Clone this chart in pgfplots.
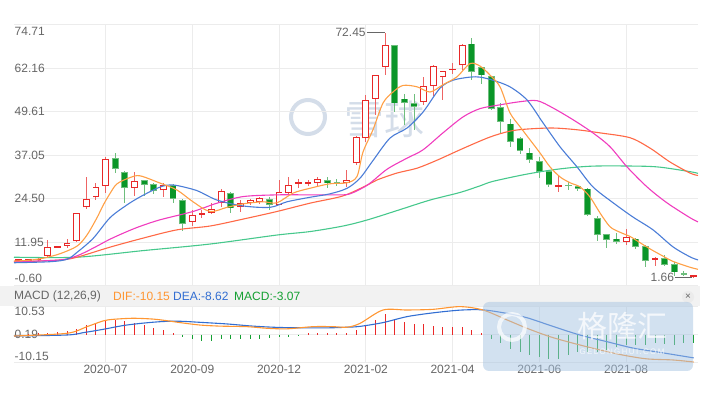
\documentclass[border=0pt]{standalone}
\usepackage{pgfplots}
\pgfplotsset{compat=1.18}
\usepackage{pgfplotstable}
\usepackage{fontspec}
\setmainfont{Liberation Sans}
\newfontfamily\cjk{Noto Sans CJK SC}
\definecolor{upred}{RGB}{232,40,40}
\definecolor{upwick}{RGB}{238,100,100}
\definecolor{dngreen}{RGB}{10,150,40}
\definecolor{dnlight}{RGB}{110,190,125}
\definecolor{maA}{RGB}{255,160,70}
\definecolor{maB}{RGB}{75,125,215}
\definecolor{maC}{RGB}{240,60,190}
\definecolor{maD}{RGB}{255,105,70}
\definecolor{maE}{RGB}{70,200,140}
\definecolor{difc}{RGB}{255,150,50}
\definecolor{deac}{RGB}{50,110,210}
\definecolor{histr}{RGB}{235,40,40}
\definecolor{histg}{RGB}{20,160,50}
\definecolor{gridc}{RGB}{236,236,236}
\definecolor{labgray}{RGB}{102,102,102}
\definecolor{bandgray}{RGB}{242,242,242}
\definecolor{wm}{RGB}{212,221,233}
\definecolor{wmblue}{RGB}{165,195,226}

\pgfplotstableread{
i O H L C
0 6.5 7.0 6.3 6.9
1 6.6 7.1 6.4 7.0
2 6.7 7.3 6.5 7.1
3 8.0 12.6 7.4 10.5
4 10.4 10.9 10.2 10.6
5 10.9 13.0 10.4 11.7
6 12.2 20.5 12.0 20.3
7 22.0 30.7 21.5 24.4
8 24.9 29.0 24.1 27.8
9 28.1 36.5 26.1 35.9
12 27.6 32.2 25.2 29.6
15 26.9 29.0 24.9 28.4
18 17.7 21.2 16.6 19.7
19 19.8 21.2 18.9 20.1
20 20.4 23.3 20.2 21.6
21 23.3 27.2 22.1 26.7
23 22.1 24.1 20.7 23.2
24 23.2 24.5 22.8 24.1
25 23.5 25.0 23.0 24.6
27 22.8 29.9 22.6 26.5
28 26.2 30.7 25.5 28.4
29 28.8 30.1 27.5 29.0
30 28.8 29.8 28.2 29.0
31 29.1 30.8 28.1 30.1
34 28.9 32.7 27.8 29.8
35 34.7 42.5 34.3 42.2
36 41.9 54.4 40.9 52.9
37 53.4 60.3 48.6 60.1
38 62.5 72.45 60.1 68.8
42 52.4 59.6 51.5 57.0
43 57.0 63.2 54.2 62.8
44 59.6 61.4 52.9 61.3
45 61.6 63.8 60.6 61.9
46 63.0 69.3 61.6 68.8
56 28.0 31.3 26.5 28.2
63 12.0 15.6 11.1 13.5
66 6.9 7.6 5.0 7.1
70 2.0 2.4 1.66 2.3
}\upT

\pgfplotstableread{
i O H L C
10 36.2 37.6 31.9 33.0
11 32.2 32.5 23.2 27.5
13 29.8 30.0 25.2 28.4
14 28.7 29.0 25.8 26.7
16 28.4 28.6 23.2 24.4
17 24.1 24.3 15.2 17.1
22 26.2 26.5 20.3 21.7
26 24.3 25.0 21.2 22.7
32 29.8 30.8 27.6 28.9
33 29.1 30.1 28.2 28.9
39 68.8 68.9 49.5 52.0
40 53.4 54.8 45.7 52.1
41 52.1 54.8 44.3 50.9
47 69.3 70.8 58.7 61.1
48 62.4 62.6 57.5 60.1
49 59.8 60.0 50.0 50.5
50 51.0 52.0 43.3 46.7
51 46.2 47.6 39.4 40.9
52 41.9 42.3 37.5 38.2
53 37.8 39.0 34.8 35.6
54 35.3 36.4 30.6 32.2
55 32.5 32.7 27.9 28.4
57 28.3 29.3 27.0 28.1
58 28.2 28.5 26.7 27.4
59 27.4 27.6 19.4 19.7
60 18.8 19.5 12.3 14.0
61 14.2 14.4 10.4 12.5
62 13.0 14.5 11.4 12.0
64 13.0 13.2 9.9 10.6
65 10.8 11.0 4.8 6.6
67 7.3 8.2 5.0 5.3
68 5.6 6.3 2.3 3.2
69 3.1 3.5 2.2 2.6
}\dnT

\newcommand{\lab}{\fontsize{12bp}{14bp}\selectfont}
\pgfplotsset{candle/.style={draw=none, mark=none, forget plot, error bars/y explicit, error bars/error mark=none}}

\begin{document}
\begin{tikzpicture}
\path[use as bounding box] (0,0) rectangle (706bp,396bp);
% watermark
\draw[wm, line width=4bp] (308bp,279bp) circle (17bp);
\node[text=wm, inner sep=0pt] at (384bp,277bp) {\cjk\fontsize{40bp}{40bp}\selectfont 雪球};
% legend band
\fill[bandgray] (0,90bp) rectangle (700bp,110bp);

\begin{axis}[
  at={(14bp,110.4bp)}, anchor=south west, scale only axis,
  width=684.4bp, height=260.8bp,
  xmin=-0.5, xmax=70.5, ymin=-0.60, ymax=74.71,
  axis line style={draw=none}, tick style={draw=none},
  xtick={9,18,27,36,45,54,63}, xticklabels={},
  ytick={-0.60,11.95,24.50,37.05,49.61,62.16,74.71},
  yticklabels={,11.95,24.50,37.05,49.61,62.16,},
  yticklabel style={anchor=west, inner xsep=0.5bp, text=labgray, font=\lab},
  grid=major, grid style={gridc, line width=0.7bp},
  clip=false,
]
% wicks
\addplot[candle, error bars/y dir=both, error bars/error bar style={line width=1bp, draw=upwick}]
  table[x=i, y=C, y error plus expr=\thisrow{H}-\thisrow{C}, y error minus expr=\thisrow{C}-\thisrow{L}] {\upT};
\addplot[candle, error bars/y dir=both, error bars/error bar style={line width=1bp, draw=dnlight}]
  table[x=i, y=C, y error plus expr=\thisrow{H}-\thisrow{C}, y error minus expr=\thisrow{C}-\thisrow{L}] {\dnT};
% up bodies (hollow)
\addplot[candle, error bars/y dir=plus, error bars/error bar style={line width=6.8bp, draw=upred}]
  table[x=i, y=O, y error plus expr={max(\thisrow{C}-\thisrow{O},0.45)}] {\upT};
\addplot[candle, error bars/y dir=plus, error bars/error bar style={line width=5.0bp, draw=white}]
  table[x=i, y expr=\thisrow{O}+0.3, y error plus expr={max(\thisrow{C}-\thisrow{O}-0.6,0)}] {\upT};
% down bodies
\addplot[candle, error bars/y dir=plus, error bars/error bar style={line width=6.8bp, draw=dnlight}]
  table[x=i, y=C, y error plus expr={max(\thisrow{O}-\thisrow{C},0.45)}] {\dnT};
\addplot[candle, error bars/y dir=plus, error bars/error bar style={line width=5.2bp, draw=dngreen}]
  table[x=i, y expr=\thisrow{C}+0.25, y error plus expr={max(\thisrow{O}-\thisrow{C}-0.5,0)}] {\dnT};

% moving averages
\addplot[maE, line width=1.1bp, smooth, tension=0.5] coordinates {
(-0.5,7.6) (6.04,7.6) (12.88,9.5) (19.83,11.4) (26.78,14.0) (30.2,15.0) (33.63,16.6) (36.2,18.4) (39.5,21.3) (42.66,24.1) (45.77,26.3) (47.84,28.2) (49.19,29.5) (52.72,31.6) (56.14,33.1) (59.56,33.9) (64.13,33.9) (66.51,33.6) (69.63,32.3) (70.46,31.8)};
\addplot[maD, line width=1.1bp, smooth, tension=0.5] coordinates {
(-0.5,6.2) (4.27,6.8) (6.04,7.6) (9.46,10.5) (12.88,13.1) (16.41,15.5) (19.83,16.6) (23.26,18.6) (26.78,20.8) (30.2,23.2) (33.63,25.3) (36.2,28.5) (37.16,29.9) (39.23,31.9) (41.31,33.3) (43.38,35.6) (46.08,39.0) (48.88,42.3) (50.95,44.0) (52.72,44.6) (55.41,44.9) (57.9,44.4) (60.29,43.5) (63.4,42.1) (65.48,39.1) (67.55,35.1) (69.63,31.9) (70.46,31.2)};
\addplot[maC, line width=1.1bp, smooth, tension=0.5] coordinates {
(-0.5,6.3) (4.27,6.8) (6.04,8.0) (7.7,10.2) (9.46,12.8) (11.22,15.0) (12.57,16.5) (14.65,18.4) (18.07,20.8) (20.56,23.2) (23.26,25.1) (26.78,25.6) (30.2,25.6) (33.01,25.6) (34.36,25.9) (36.2,28.5) (38.2,33.0) (40.27,36.2) (41.93,38.6) (44.0,43.5) (46.08,48.1) (47.84,50.5) (49.92,51.6) (51.99,52.5) (53.76,52.8) (55.41,50.7) (57.49,47.3) (59.56,43.5) (61.33,39.5) (63.09,33.7) (65.17,27.9) (67.24,23.3) (69.63,19.0) (70.46,17.8)};
\addplot[maB, line width=1.1bp, smooth, tension=0.5] coordinates {
(-0.5,6.0) (3.24,6.3) (5.0,7.0) (6.04,9.0) (7.7,13.0) (9.46,19.0) (11.22,22.7) (12.57,25.0) (14.34,27.5) (15.37,28.4) (16.41,28.3) (18.5,26.8) (20.56,24.1) (23.26,22.4) (26.06,22.0) (27.82,23.6) (30.2,24.9) (32.28,25.9) (34.05,27.5) (35.39,30.4) (36.74,35.5) (38.51,42.0) (40.27,44.9) (41.93,49.5) (43.69,56.4) (45.04,58.7) (46.8,59.6) (47.84,59.6) (49.19,58.7) (50.95,56.8) (52.72,53.0) (54.38,46.4) (56.14,39.5) (57.9,33.7) (59.56,27.9) (61.66,23.3) (63.71,19.2) (65.79,15.5) (67.86,10.6) (69.63,7.7) (70.46,6.8)};
\addplot[maA, line width=1.1bp, smooth, tension=0.5] coordinates {
(-0.5,6.5) (1,6.7) (2.51,7.3) (4.27,8.6) (6.04,10.8) (7.07,14.0) (8.11,19.0) (8.73,22.5) (9.46,26.0) (10.19,28.8) (11.54,30.6) (12.57,31.1) (14.65,29.0) (16.41,27.0) (18.07,23.6) (19.83,20.8) (21.6,22.0) (23.26,23.0) (25.33,23.6) (26.78,23.3) (28.44,26.1) (30.2,27.5) (32.28,28.8) (34.05,29.1) (35.08,30.9) (35.71,38.0) (36.74,44.4) (37.78,52.1) (38.82,55.3) (39.86,57.2) (41.31,56.8) (42.66,55.3) (44.0,57.4) (45.46,59.7) (46.8,63.5) (47.84,62.8) (48.88,60.2) (49.92,56.8) (50.95,49.3) (51.99,45.3) (53.03,41.5) (54.07,37.7) (55.1,33.7) (56.14,30.8) (57.18,29.1) (58.22,27.9) (59.25,25.0) (60.29,20.4) (61.33,16.4) (62.37,14.8) (63.4,13.6) (64.44,11.8) (65.48,10.0) (66.51,8.4) (67.86,6.4) (69.63,4.7) (70.46,4.1)};

% extreme labels
\draw[labgray, line width=0.6bp] (axis cs:36.1,72.45) -- (axis cs:38,72.45);
\node[anchor=east, inner sep=1bp, text=labgray, font=\lab] at (axis cs:36.1,72.45) {72.45};
\draw[labgray, line width=0.6bp] (axis cs:68.1,1.66) -- (axis cs:69.8,1.66);
\node[anchor=east, inner sep=1bp, text=labgray, font=\lab] at (axis cs:68.1,1.9) {1.66};
% axis end labels
\node[anchor=north west, inner xsep=0.5bp, inner ysep=2bp, text=labgray, font=\lab] at (rel axis cs:0,1) {74.71};
\node[anchor=south west, inner xsep=0.5bp, inner ysep=3bp, text=labgray, font=\lab] at (rel axis cs:0,0) {-0.60};
\end{axis}

% legend text
\node[anchor=west, inner sep=0pt, text=labgray, font=\lab] at (14bp,100bp) {MACD (12,26,9)};
\node[anchor=west, inner sep=0pt, text=difc, font=\lab] at (113bp,100bp) {DIF:-10.15};
\node[anchor=west, inner sep=0pt, text=deac, font=\lab] at (173bp,100bp) {DEA:-8.62};
\node[anchor=west, inner sep=0pt, text=histg, font=\lab] at (234bp,100bp) {MACD:-3.07};
\fill[black!8] (688bp,99bp) circle (6bp);
\node[text=labgray, inner sep=0pt, font=\fontsize{10bp}{10bp}\selectfont] at (688bp,99bp) {×};

\begin{axis}[
  at={(14bp,34bp)}, anchor=south west, scale only axis,
  width=684.4bp, height=56bp,
  xmin=-0.5, xmax=70.5, ymin=-10.15, ymax=10.53,
  axis line style={draw=none}, tick style={draw=none},
  xtick={9,18,27,36,45,54,63},
  xticklabels={2020-07,2020-09,2020-12,2021-02,2021-04,2021-06,2021-08},
  xticklabel style={text=labgray, font=\lab, inner ysep=3bp},
  ytick={-10.15,0.19,10.53},
  yticklabels={,0.19,},
  yticklabel style={anchor=west, inner xsep=0.5bp, text=labgray, font=\lab},
  grid=major, grid style={gridc, line width=0.7bp},
  clip=false,
]
\addplot[ycomb, histr, line width=1bp] coordinates {
(1,0.2) (2,0.4) (3,0.6) (4,0.9) (5,1.3) (6,2.2) (7,3.4) (8,4.3) (9,5.5) (10,5.5) (11,5.0) (12,4.3) (13,3.4) (14,2.5) (15,1.6) (16,0.7)
(30,0.6) (31,0.6) (32,0.7) (33,0.7) (34,0.6) (35,1.6) (36,3.4) (37,5.5) (38,7.7) (39,5.9) (40,4.7) (41,3.8) (42,3.7) (43,3.2) (44,2.8) (45,2.6) (46,2.8) (47,1.6) (48,0.6)};
\addplot[ycomb, histg, line width=1bp] coordinates {
(17,-0.9) (18,-1.8) (19,-2.3) (20,-2.5) (21,-1.8) (22,-1.8) (23,-1.5) (24,-1.5) (25,-1.5) (26,-1.2) (27,-1.1) (28,-0.9) (29,-0.2)
(49,-1.5) (50,-3.3) (51,-5.4) (52,-6.4) (53,-7.6) (54,-8.2) (55,-9.1) (56,-8.9) (57,-7.6) (58,-6.4) (59,-6.4) (60,-6.4) (61,-5.8) (62,-4.6) (63,-3.9) (64,-3.9) (65,-3.9) (66,-3.1) (67,-3.6) (68,-3.9) (69,-3.3) (70,-3.07)};
\addplot[deac, line width=1.1bp, smooth, tension=0.5] coordinates {
(-0.5,-0.55) (5.0,-0.18) (6.66,0.67) (8.73,1.9) (10.81,3.3) (12.88,4.2) (14.96,4.8) (16.72,4.9) (18.8,4.5) (21.6,3.9) (24.29,3.1) (27.1,2.6) (30.52,2.45) (32.59,2.5) (34.05,2.7) (35.39,3.0) (37.78,4.4) (40.27,6.6) (42.97,8.0) (45.77,9.0) (48.15,9.1) (50.64,7.8) (52.72,6.2) (55.41,3.0) (58.22,-0.2) (61.02,-2.65) (63.71,-5.0) (66.51,-6.6) (70,-8.62)};
\addplot[difc, line width=1.1bp, smooth, tension=0.5] coordinates {
(-0.5,-0.55) (5.0,0.45) (7.07,2.9) (8.73,5.0) (9.77,5.6) (11.85,6.0) (13.92,5.7) (15.37,5.1) (16.72,4.4) (18.8,3.5) (20.87,3.1) (23.67,2.9) (25.75,2.3) (27.82,2.1) (30.52,2.9) (32.59,2.9) (34.05,2.7) (35.39,4.1) (37.78,9.05) (40.27,9.05) (42.97,9.3) (45.77,10.3) (48.15,9.05) (50.64,5.4) (52.72,2.3) (55.1,-0.8) (57.49,-3.2) (60.29,-5.7) (62.68,-7.6) (65.17,-9.0) (67.86,-9.4) (70,-10.15)};
\node[anchor=north west, inner xsep=0.5bp, inner ysep=1bp, text=labgray, font=\lab] at (rel axis cs:0,1) {10.53};
\node[anchor=south west, inner xsep=0.5bp, inner ysep=1bp, text=labgray, font=\lab] at (rel axis cs:0,0) {-10.15};
\end{axis}

% gelonghui watermark overlay
\fill[wmblue, opacity=0.5, rounded corners=6bp] (483bp,25bp) rectangle (693bp,94bp);
\draw[white, opacity=0.7, line width=4bp] (512bp,69bp) circle (13bp);
\node[text=white, opacity=0.75, inner sep=0pt] at (622bp,70bp) {\cjk\fontsize{30bp}{30bp}\selectfont 格隆汇};
\node[text=white, opacity=0.75, inner sep=0pt] at (622bp,44bp) {\fontsize{8bp}{8bp}\selectfont G\,E\,L\,O\,N\,G\,H\,U\,I\,.\,C\,O\,M};
\end{tikzpicture}
\end{document}
